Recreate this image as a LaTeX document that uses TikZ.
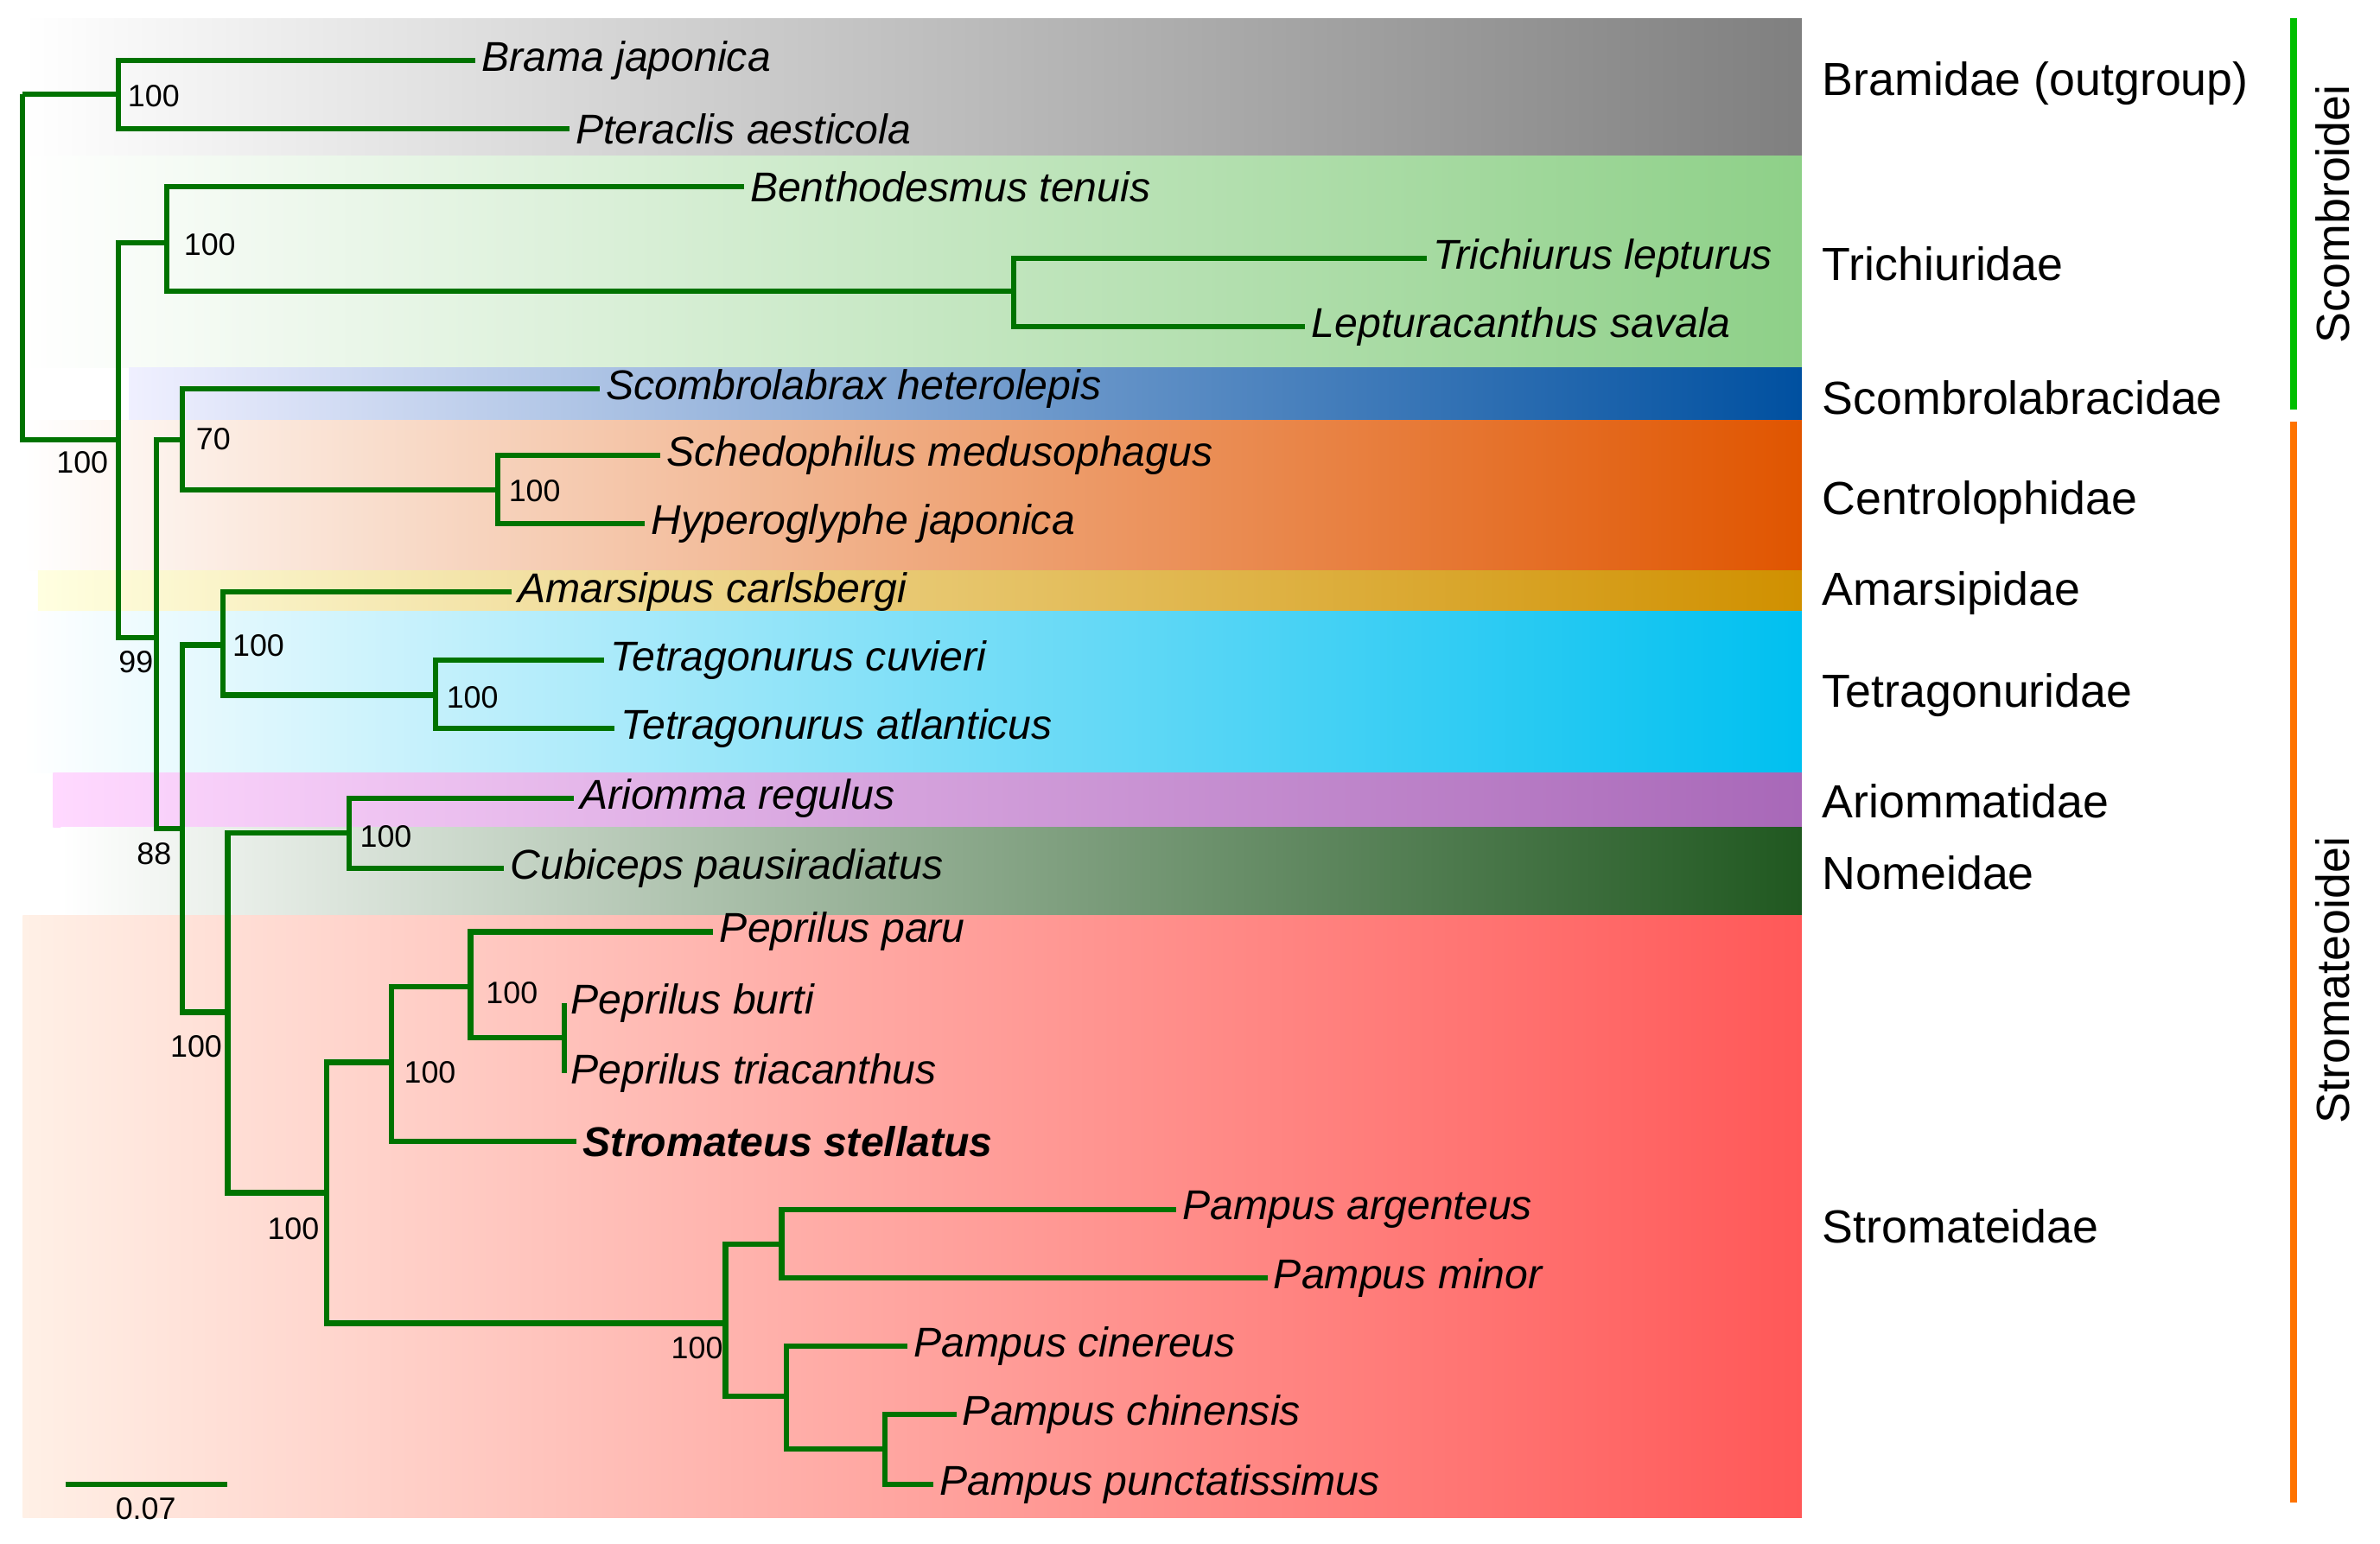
\documentclass[tikz,border=0pt]{standalone}
\usepackage{fontspec}
\setmainfont{Liberation Sans}
\begin{document}
\begin{tikzpicture}[x=0.01cm,y=-0.01cm,
 br/.style={draw=green!45!black,line width=1pt},
 sp/.style={anchor=west,inner sep=1pt,font=\fontsize{7.8pt}{9pt}\selectfont\itshape},
 bs/.style={anchor=north west,inner sep=1pt,font=\fontsize{5.8pt}{7pt}\selectfont},
 fam/.style={anchor=west,inner sep=0pt,font=\fontsize{8.7pt}{10pt}\selectfont}]
\definecolor{trg}{HTML}{8ED088}
\definecolor{scb}{HTML}{0050A0}
\definecolor{ceo}{HTML}{E05500}
\definecolor{amy}{HTML}{D09000}
\definecolor{tec}{HTML}{00C0F0}
\definecolor{arp}{HTML}{A868B8}
\definecolor{nog}{HTML}{205820}
\definecolor{stL}{HTML}{FFF0E6}
\definecolor{stM}{HTML}{FFB285}
\definecolor{stR}{HTML}{FF5858}
\useasboundingbox (0,0) rectangle (1568,1017);
% bands
\shade[left color=white,right color=black!50] (15,12) rectangle (1187,103);
\shade[left color=white,right color=trg] (15,103) rectangle (1187,242);
\shade[left color=blue!6,middle color=scb!45,right color=scb] (85,242) rectangle (1187,277);
\shade[left color=white,middle color=stM,right color=ceo] (15,277) rectangle (1187,376);
\shade[left color=yellow!12,middle color=yellow!70!orange!80,right color=amy] (25,376) rectangle (1187,403);
\shade[left color=white,right color=tec] (15,403) rectangle (1187,509);
\shade[left color=magenta!15,middle color=magenta!55,right color=arp] (35,509) rectangle (1187,545);
\shade[left color=white,middle color=trg,right color=nog] (40,545) rectangle (1187,603);
\shade[left color=stL,middle color=stM,right color=stR] (15,603) rectangle (1187,1000);
% tips
\node[sp] (t1) at (313,40) {Brama japonica};
\node[sp] (t2) at (375,85) {Pteraclis aesticola};
\node[sp] (t3) at (490,123) {Benthodesmus tenuis};
\node[sp] (t4) at (940,170) {Trichiurus lepturus};
\node[sp] (t5) at (860,215) {Lepturacanthus savala};
\node[sp] (t6) at (395,256) {Scombrolabrax heterolepis};
\node[sp] (t7) at (435,300) {Schedophilus medusophagus};
\node[sp] (t8) at (425,345) {Hyperoglyphe japonica};
\node[sp] (t9) at (337,390) {Amarsipus carlsbergi};
\node[sp] (t10) at (398,435) {Tetragonurus cuvieri};
\node[sp] (t11) at (405,480) {Tetragonurus atlanticus};
\node[sp] (t12) at (378,526) {Ariomma regulus};
\node[sp] (t13) at (332,572) {Cubiceps pausiradiatus};
\node[sp] (t14) at (470,614) {Peprilus paru};
\node[sp] (t15) at (372,661) {Peprilus burti};
\node[sp] (t16) at (372,707) {Peprilus triacanthus};
\node[sp,font=\fontsize{7.8pt}{9pt}\selectfont\bfseries\itshape] (t17) at (380,752) {Stromateus stellatus};
\node[sp] (t18) at (775,797) {Pampus argenteus};
\node[sp] (t19) at (835,842) {Pampus minor};
\node[sp] (t20) at (598,887) {Pampus cinereus};
\node[sp] (t21) at (630,932) {Pampus chinensis};
\node[sp] (t22) at (615,978) {Pampus punctatissimus};
% internal nodes
\coordinate (r) at (15,62);
\coordinate (nb) at (78,62);
\coordinate (n78) at (78,290);
\coordinate (ntr) at (110,160);
\coordinate (ntr2) at (668,192);
\coordinate (n103) at (103,420);
\coordinate (nsc) at (120,290);
\coordinate (nce) at (328,323);
\coordinate (n120) at (120,546);
\coordinate (n147) at (147,425);
\coordinate (nte) at (287,458);
\coordinate (n150) at (150,667);
\coordinate (nar) at (230,549);
\coordinate (n215) at (215,786);
\coordinate (n258) at (258,700);
\coordinate (n310) at (310,650);
\coordinate (npe) at (372,684);
\coordinate (n478) at (478,872);
\coordinate (n515) at (515,820);
\coordinate (n518) at (518,920);
\coordinate (n583) at (583,955);
\draw[br] (r) |- (nb) (r) |- (n78);
\draw[br] (nb) |- (t1.west) (nb) |- (t2.west);
\draw[br] (n78) |- (ntr) (n78) |- (n103);
\draw[br] (ntr) |- (t3.west) (ntr) |- (ntr2);
\draw[br] (ntr2) |- (t4.west) (ntr2) |- (t5.west);
\draw[br] (n103) |- (nsc) (n103) |- (n120);
\draw[br] (nsc) |- (t6.west) (nsc) |- (nce);
\draw[br] (nce) |- (t7.west) (nce) |- (t8.west);
\draw[br] (n120) |- (n147) (n120) |- (n150);
\draw[br] (n147) |- (t9.west) (n147) |- (nte);
\draw[br] (nte) |- (t10.west) (nte) |- (t11.west);
\draw[br] (n150) |- (nar) (n150) |- (n215);
\draw[br] (nar) |- (t12.west) (nar) |- (t13.west);
\draw[br] (n215) |- (n258) (n215) |- (n478);
\draw[br] (n258) |- (n310) (n258) |- (t17.west);
\draw[br] (n310) |- (t14.west) (n310) |- (npe);
\draw[br] (npe) |- (t15.west) (npe) |- (t16.west);
\draw[br] (n478) |- (n515) (n478) |- (n518);
\draw[br] (n515) |- (t18.west) (n515) |- (t19.west);
\draw[br] (n518) |- (t20.west) (n518) |- (n583);
\draw[br] (n583) |- (t21.west) (n583) |- (t22.west);
% support
\node[bs] (b1) at (80,52) {100};
\node[bs] (b2) at (117,150) {100};
\node[bs] (b3) at (33,293) {100};
\node[bs] (b4) at (125,278) {70};
\node[bs] (b5) at (331,312) {100};
\node[bs] (b6) at (74,425) {99};
\node[bs] (b7) at (149,414) {100};
\node[bs] (b8) at (290,448) {100};
\node[bs] (b9) at (86,551) {88};
\node[bs] (b10) at (233,540) {100};
\node[bs] (b11) at (108,678) {100};
\node[bs] (b12) at (316,643) {100};
\node[bs] (b13) at (262,695) {100};
\node[bs] (b14) at (172,798) {100};
\node[bs] (b15) at (438,877) {100};
% scale
\coordinate (s1) at (43,978); \coordinate (s2) at (150,978);
\draw[br] (s1) -- (s2);
\node[bs,anchor=north] (sl) at (96,983) {0.07};
% families
\node[fam] (f1) at (1200,55) {Bramidae (outgroup)};
\node[fam] (f2) at (1200,174) {Trichiuridae};
\node[fam] (f3) at (1200,262) {Scombrolabracidae};
\node[fam] (f4) at (1200,331) {Centrolophidae};
\node[fam] (f5) at (1200,391) {Amarsipidae};
\node[fam] (f6) at (1200,458) {Tetragonuridae};
\node[fam] (f7) at (1200,528) {Ariommatidae};
\node[fam] (f8) at (1200,575) {Nomeidae};
\node[fam] (f9) at (1200,808) {Stromateidae};
\coordinate (g1) at (1511,12); \coordinate (g2) at (1511,270);
\coordinate (o1) at (1511,278); \coordinate (o2) at (1511,990);
\draw[line width=1.3pt,green!75!black] (g1) -- (g2);
\draw[line width=1.3pt,orange!90!red] (o1) -- (o2);
\node[fam,anchor=center,rotate=90] (so1) at (1537,141) {Scombroidei};
\node[fam,anchor=center,rotate=90] (so2) at (1537,646) {Stromateoidei};
\end{tikzpicture}
\end{document}
